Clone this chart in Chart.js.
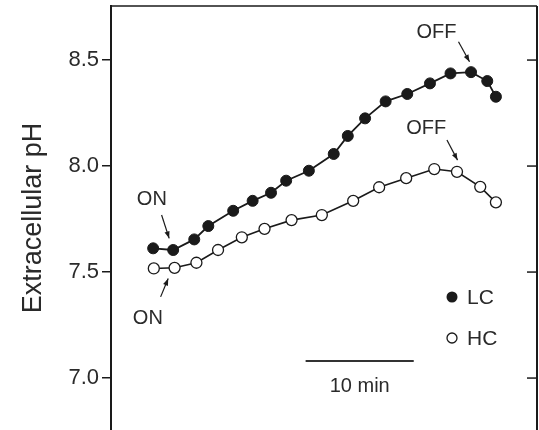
<!DOCTYPE html>
<html>
<head>
<meta charset="utf-8">
<script src="https://cdn.jsdelivr.net/npm/chart.js@4"></script>
<style>
  html, body { margin: 0; padding: 0; background: #fff; }
  #wrap { width: 539px; height: 430px; }
</style>
</head>
<body>
<div id="wrap"><canvas id="c" width="539" height="430"></canvas></div>
<script>
// ---- data (time in minutes, extracellular pH) ----
const lcTime = [0, 1.85, 3.8, 5.1, 7.4, 9.2, 10.9, 12.3, 14.4, 16.7, 18.0, 19.6, 21.5, 23.5, 25.6, 27.5, 29.4, 30.9, 31.7];
const lcPH   = [7.612, 7.604, 7.654, 7.717, 7.789, 7.836, 7.874, 7.931, 7.978, 8.057, 8.142, 8.225, 8.305, 8.340, 8.390, 8.437, 8.443, 8.401, 8.327];
const hcTime = [0.06, 1.98, 4.0, 6.0, 8.2, 10.3, 12.8, 15.6, 18.5, 20.9, 23.4, 26.0, 28.1, 30.25, 31.7];
const hcPH   = [7.517, 7.520, 7.544, 7.604, 7.664, 7.704, 7.745, 7.769, 7.836, 7.900, 7.943, 7.986, 7.973, 7.902, 7.829];
const seriesNames = ['LC', 'HC'];
const yTickValues = [7.0, 7.5, 8.0, 8.5];
const yTickLabels = ['7.0', '7.5', '8.0', '8.5'];
const scaleBarTime = [14.1, 24.1];   // 10 min bar
const scaleBarPH = [7.08, 7.08];
const scaleBarLabel = '10 min';

const FONT = '"Liberation Sans", Arial, Helvetica, sans-serif';
const INK = '#1a1a1a';
const TXT = '#2a2a2a';

// annotations in data coordinates
const annotations = [
  { text: 'ON',  t: -0.12, ph: 7.84,  arrow: [0.78, 7.769, 1.48, 7.659] },
  { text: 'ON',  t: -0.49, ph: 7.283, arrow: [0.69, 7.383, 1.39, 7.470] },
  { text: 'OFF', t: 26.2,  ph: 8.632, arrow: [28.24, 8.586, 29.26, 8.492] },
  { text: 'OFF', t: 25.26, ph: 8.175, arrow: [27.17, 8.123, 28.15, 8.028] }
];

const toPts = (xs, ys) => xs.map((x, i) => ({ x: x, y: ys[i] }));

const decor = {
  id: 'decor',
  afterDraw(chart) {
    const ctx = chart.ctx, a = chart.chartArea;
    const xs = chart.scales.x, ys = chart.scales.y;
    ctx.save();
    // top and right frame
    ctx.strokeStyle = INK;
    ctx.lineWidth = 1.5;
    ctx.beginPath();
    ctx.moveTo(a.left, a.top); ctx.lineTo(a.right, a.top);
    ctx.stroke();
    ctx.lineWidth = 2;
    ctx.beginPath();
    ctx.moveTo(a.right, a.top); ctx.lineTo(a.right, a.bottom);
    ctx.stroke();
    // right inward ticks
    ctx.lineWidth = 1.5;
    yTickValues.forEach(v => {
      const y = ys.getPixelForValue(v);
      ctx.beginPath(); ctx.moveTo(a.right - 10, y); ctx.lineTo(a.right, y); ctx.stroke();
    });
    // annotations
    ctx.font = '20px ' + FONT;
    ctx.textAlign = 'center';
    ctx.textBaseline = 'middle';
    annotations.forEach(an => {
      ctx.fillStyle = TXT;
      ctx.fillText(an.text, xs.getPixelForValue(an.t), ys.getPixelForValue(an.ph));
      const x1 = xs.getPixelForValue(an.arrow[0]), y1 = ys.getPixelForValue(an.arrow[1]);
      const x2 = xs.getPixelForValue(an.arrow[2]), y2 = ys.getPixelForValue(an.arrow[3]);
      const ang = Math.atan2(y2 - y1, x2 - x1);
      ctx.fillStyle = INK;
      ctx.lineWidth = 1.2;
      ctx.beginPath(); ctx.moveTo(x1, y1); ctx.lineTo(x2, y2); ctx.stroke();
      const L = 7, W = 2.6;
      ctx.beginPath();
      ctx.moveTo(x2, y2);
      ctx.lineTo(x2 - L * Math.cos(ang) + W * Math.sin(ang), y2 - L * Math.sin(ang) - W * Math.cos(ang));
      ctx.lineTo(x2 - L * Math.cos(ang) - W * Math.sin(ang), y2 - L * Math.sin(ang) + W * Math.cos(ang));
      ctx.closePath(); ctx.fill();
    });
    // scale bar label
    ctx.fillStyle = TXT;
    ctx.font = '20px ' + FONT;
    ctx.fillText(scaleBarLabel, xs.getPixelForValue((scaleBarTime[0] + scaleBarTime[1]) / 2), ys.getPixelForValue(6.96));
    // legend
    const lx = 452, ly = [297, 338];
    ctx.font = '21px ' + FONT;
    ctx.textAlign = 'left';
    ctx.fillStyle = INK;
    ctx.beginPath(); ctx.arc(lx, ly[0], 5.5, 0, Math.PI * 2); ctx.fill();
    ctx.fillStyle = TXT;
    ctx.fillText(seriesNames[0], 467, ly[0] + 1);
    ctx.beginPath(); ctx.arc(lx, ly[1], 5, 0, Math.PI * 2);
    ctx.fillStyle = '#fff'; ctx.fill();
    ctx.lineWidth = 1.3; ctx.stroke();
    ctx.fillStyle = TXT;
    ctx.fillText(seriesNames[1], 467, ly[1] + 1);
    ctx.restore();
  }
};

new Chart(document.getElementById('c'), {
  type: 'scatter',
  data: {
    datasets: [
      {
        label: seriesNames[0],
        data: toPts(lcTime, lcPH),
        showLine: true,
        borderColor: INK, borderWidth: 1.8,
        pointRadius: 5.5, pointBackgroundColor: INK, pointBorderColor: INK, pointBorderWidth: 1
      },
      {
        label: seriesNames[1],
        data: toPts(hcTime, hcPH),
        showLine: true,
        borderColor: INK, borderWidth: 1.6,
        pointRadius: 5.5, pointBackgroundColor: '#fff', pointBorderColor: INK, pointBorderWidth: 1.3
      },
      {
        label: 'scale',
        data: toPts(scaleBarTime, scaleBarPH),
        showLine: true,
        borderColor: '#333', borderWidth: 2,
        pointRadius: 0
      }
    ]
  },
  options: {
    responsive: false,
    animation: false,
    layout: { autoPadding: false, padding: { top: 6, right: 2, bottom: 0, left: 0 } },
    plugins: { legend: { display: false }, tooltip: { enabled: false } },
    scales: {
      x: { type: 'linear', display: false, min: -3.9, max: 35.5 },
      y: {
        type: 'linear', min: 6.755, max: 8.755,
        afterBuildTicks(s) { s.ticks = yTickValues.map(v => ({ value: v })); },
        afterFit(s) { s.width = 111; s.paddingTop = 0; s.paddingBottom = 0; },
        ticks: {
          callback: (v) => yTickLabels[yTickValues.indexOf(v)],
          color: TXT, font: { family: FONT, size: 22 }, padding: 3
        },
        grid: { drawOnChartArea: false, tickLength: 9, color: INK, lineWidth: 1.5 },
        border: { display: true, color: INK, width: 2 },
        title: {
          display: true, text: 'Extracellular pH',
          color: TXT, font: { family: FONT, size: 27 }, padding: { top: 17, bottom: 0 }
        }
      }
    }
  },
  plugins: [decor]
});
</script>
</body>
</html>
